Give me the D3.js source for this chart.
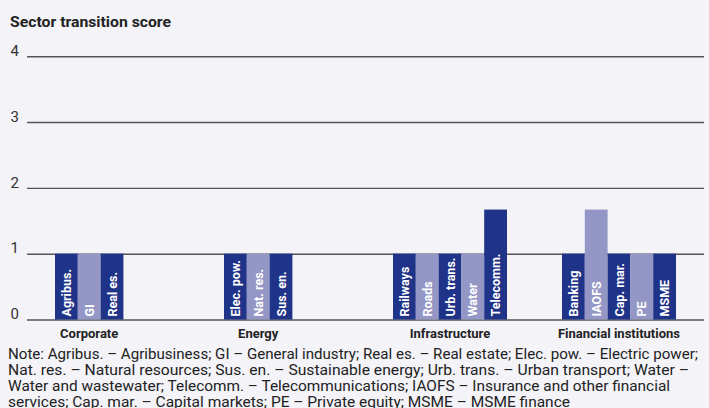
<!DOCTYPE html>
<html>
<head>
<meta charset="utf-8">
<script src="https://cdn.jsdelivr.net/npm/d3@7"></script>
<style>
  html, body { margin: 0; padding: 0; background: #f3f3f8; }
  svg { display: block; }
</style>
</head>
<body>
<svg id="chart" width="709" height="408"></svg>
<script>
// ---- data ----
const groups = ["Corporate", "Energy", "Infrastructure", "Financial institutions"];
const sectorLabels = [
  ["Agribus.", "GI", "Real es."],
  ["Elec. pow.", "Nat. res.", "Sus. en."],
  ["Railways", "Roads", "Urb. trans.", "Water", "Telecomm."],
  ["Banking", "IAOFS", "Cap. mar.", "PE", "MSME"]
];
const sectorValues = [
  [1, 1, 1],
  [1, 1, 1],
  [1, 1, 1, 1, 1.67],
  [1, 1.67, 1, 1, 1]
];
const yTicks = [0, 1, 2, 3, 4];
const title = "Sector transition score";
const noteLines = [
  "Note: Agribus. – Agribusiness; GI – General industry; Real es. – Real estate; Elec. pow. – Electric power;",
  "Nat. res. – Natural resources; Sus. en. – Sustainable energy; Urb. trans. – Urban transport; Water –",
  "Water and wastewater; Telecomm. – Telecommunications; IAOFS – Insurance and other financial",
  "services; Cap. mar. – Capital markets; PE – Private equity; MSME – MSME finance"
];

// ---- styles ----
const darkBlue = "#1f3388";
const lightBlue = "#9497c5";
const bgColor = "#f3f3f8";
const noteWidths = [690, 681, 662, 562];

const svg = d3.select("#chart");
svg.append("rect").attr("width", 709).attr("height", 408).attr("fill", bgColor);

const rows = [];
groups.forEach((g, gi) => {
  sectorLabels[gi].forEach((s, si) => {
    rows.push({ group: g, idx: si, label: s, value: sectorValues[gi][si] });
  });
});

const y = d3.scaleLinear().domain([0, 4]).range([319.5, 56.2]);
const x0 = d3.scaleBand().domain(groups).range([55, 55 + 169 * groups.length]).paddingInner(0).paddingOuter(0);
const x1 = d3.scaleBand().domain(d3.range(5)).range([0, 114]).padding(0);

// title
svg.append("text")
  .attr("x", 10).attr("y", 27)
  .attr("font-family", "Roboto, 'Liberation Sans', sans-serif")
  .attr("font-weight", 700)
  .attr("font-size", 15)
  .attr("fill", "#222")
  .attr("textLength", 161)
  .attr("lengthAdjust", "spacingAndGlyphs")
  .text(title);

// y axis gridlines + labels
const yAxis = d3.axisLeft(y).tickValues(yTicks).tickSize(-(704 - 27)).tickPadding(8).tickFormat(d3.format("d"));
const gy = svg.append("g").attr("transform", "translate(27,0)").call(yAxis);
gy.select(".domain").remove();
gy.selectAll(".tick line").attr("stroke", "#555").attr("stroke-width", 1.4);
gy.selectAll(".tick text")
  .attr("x", -8)
  .attr("dy", "-0.05em")
  .attr("font-family", "Roboto, 'Liberation Sans', sans-serif")
  .attr("font-size", 15)
  .attr("fill", "#333");

// bars
const barG = svg.append("g");
barG.selectAll("rect").data(rows).join("rect")
  .attr("x", d => x0(d.group) + x1(d.idx))
  .attr("width", x1.bandwidth())
  .attr("y", d => y(d.value))
  .attr("height", d => y(0) - y(d.value))
  .attr("fill", d => d.idx % 2 === 0 ? darkBlue : lightBlue);

// bar labels (rotated)
barG.selectAll("text").data(rows).join("text")
  .attr("transform", d => `translate(${x0(d.group) + x1(d.idx) + x1.bandwidth() / 2 + 4.5},${y(0) - 3}) rotate(-90)`)
  .attr("font-family", "Roboto, 'Liberation Sans', sans-serif")
  .attr("font-weight", 700)
  .attr("font-size", 12.5)
  .attr("fill", "#fff")
  .text(d => d.label);

// group labels
svg.append("g").selectAll("text").data(groups).join("text")
  .attr("x", (g, gi) => x0(g) + x1.step() * sectorLabels[gi].length / 2)
  .attr("y", 338)
  .attr("text-anchor", "middle")
  .attr("font-family", "Roboto, 'Liberation Sans', sans-serif")
  .attr("font-weight", 700)
  .attr("font-size", 13)
  .attr("fill", "#222")
  .text(g => g);

// note
svg.append("g").selectAll("text").data(noteLines).join("text")
  .attr("x", 8)
  .attr("y", (d, i) => 359 + i * 16)
  .attr("font-family", "Roboto, 'Liberation Sans', sans-serif")
  .attr("font-size", 15)
  .attr("fill", "#222")
  .attr("textLength", (d, i) => noteWidths[i])
  .attr("lengthAdjust", "spacingAndGlyphs")
  .text(d => d);
</script>
</body>
</html>
